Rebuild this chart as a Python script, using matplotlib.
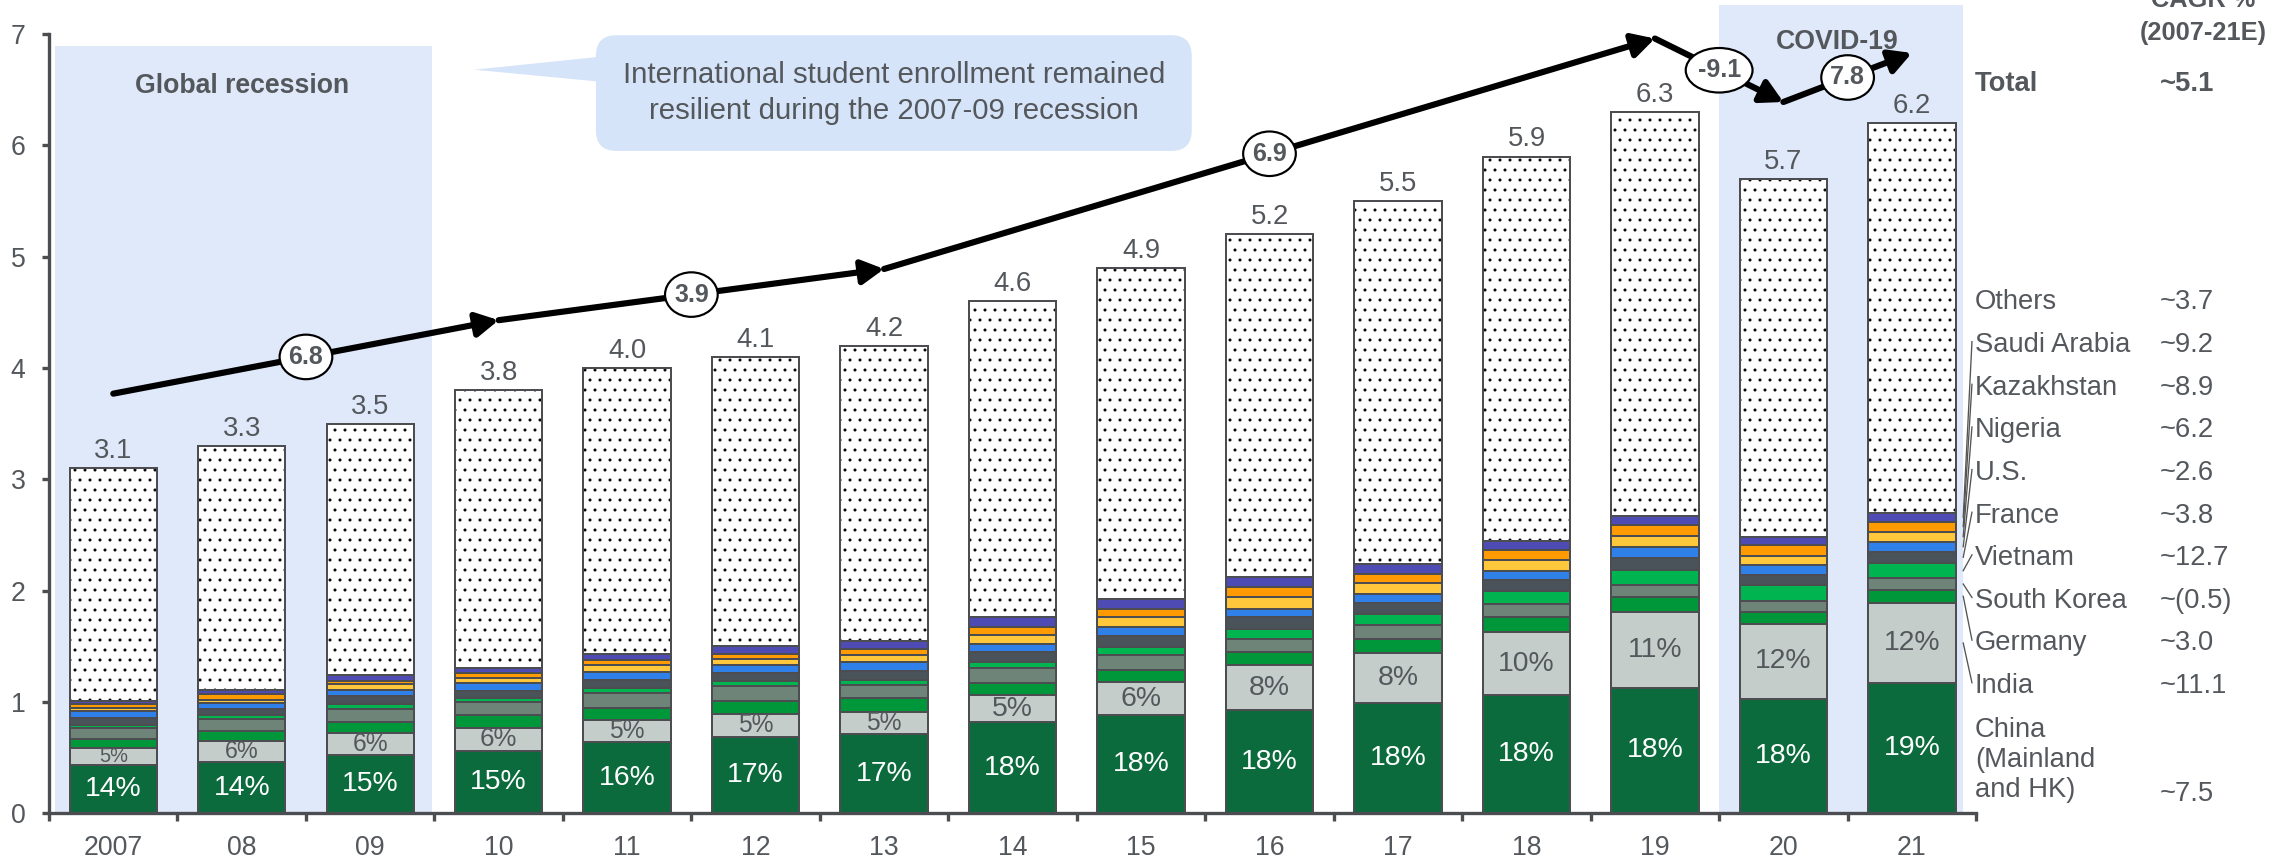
import numpy as np
import matplotlib.pyplot as plt
from matplotlib.patches import Ellipse, FancyBboxPatch, Polygon, Rectangle

plt.rcParams['font.family'] = ['Liberation Sans', 'DejaVu Sans']
plt.rcParams['hatch.linewidth'] = 0.6

# International students by source market, millions
years = ['2007', '08', '09', '10', '11', '12', '13', '14', '15', '16', '17', '18', '19', '20', '21']
totals = [3.1, 3.3, 3.5, 3.8, 4.0, 4.1, 4.2, 4.6, 4.9, 5.2, 5.5, 5.9, 6.3, 5.7, 6.2]

china = [0.43, 0.46, 0.52, 0.56, 0.64, 0.69, 0.71, 0.82, 0.88, 0.93, 0.99, 1.06, 1.13, 1.03, 1.17]
india = [0.16, 0.19, 0.20, 0.21, 0.20, 0.20, 0.20, 0.24, 0.30, 0.40, 0.45, 0.57, 0.68, 0.67, 0.72]
germany = [0.08, 0.09, 0.10, 0.11, 0.11, 0.12, 0.13, 0.11, 0.11, 0.12, 0.13, 0.13, 0.13, 0.11, 0.12]
south_korea = [0.10, 0.11, 0.12, 0.12, 0.13, 0.13, 0.11, 0.14, 0.13, 0.12, 0.12, 0.12, 0.11, 0.10, 0.10]
vietnam = [0.02, 0.03, 0.04, 0.04, 0.05, 0.05, 0.05, 0.05, 0.07, 0.09, 0.10, 0.12, 0.14, 0.14, 0.14]
france = [0.07, 0.06, 0.07, 0.06, 0.07, 0.07, 0.08, 0.09, 0.10, 0.10, 0.10, 0.10, 0.10, 0.09, 0.10]
us = [0.06, 0.05, 0.06, 0.07, 0.07, 0.07, 0.08, 0.07, 0.08, 0.08, 0.08, 0.08, 0.10, 0.09, 0.09]
nigeria = [0.03, 0.03, 0.05, 0.05, 0.06, 0.06, 0.06, 0.08, 0.09, 0.10, 0.10, 0.10, 0.10, 0.08, 0.09]
kazakhstan = [0.03, 0.05, 0.03, 0.04, 0.05, 0.04, 0.06, 0.07, 0.08, 0.09, 0.08, 0.09, 0.10, 0.10, 0.09]
saudi = [0.03, 0.04, 0.05, 0.05, 0.05, 0.07, 0.07, 0.09, 0.09, 0.09, 0.09, 0.08, 0.08, 0.07, 0.08]

# CAGR trend arrows (level of the arrow line at each turning year)
trend_years = ['2007', '10', '13', '19', '20', '21']
trend_level = [3.77, 4.43, 4.89, 6.96, 6.39, 6.83]
trend_cagr = ['6.8', '3.9', '6.9', '-9.1', '7.8']

legend_names = ['Others', 'Saudi Arabia', 'Kazakhstan', 'Nigeria', 'U.S.', 'France',
                'Vietnam', 'South Korea', 'Germany', 'India']
legend_cagr = ['~3.7', '~9.2', '~8.9', '~6.2', '~2.6', '~3.8', '~12.7', '~(0.5)', '~3.0', '~11.1']
china_cagr = '~7.5'
total_cagr = '~5.1'

segments = [china, india, germany, south_korea, vietnam, france, us, nigeria, kazakhstan, saudi]
colors = ['#0b6b3d', '#c5cdca', '#00963a', '#6f8479', '#00b450', '#4a525a',
          '#2f80e8', '#ffc83c', '#ff9a00', '#4f4bb4']

TEXT = '#54585c'
EDGE = '#4b4d50'
SHADE = '#dfe9fa'

fig = plt.figure(figsize=(19.0, 865 / 120), dpi=120)
ax = fig.add_axes([0.0215, 0.0597, 0.8452, 0.9009])

x = np.arange(len(years))
width = 0.68
n = len(years)

# shaded periods
ax.add_patch(Rectangle((x[0] - 0.45, 0), x[2] + 0.48 - (x[0] - 0.45), 6.89,
                       fc=SHADE, ec='none', zorder=0))
ax.add_patch(Rectangle((x[13] - 0.5, 0), x[14] + 0.4 - (x[13] - 0.5), 7.26,
                       fc=SHADE, ec='none', zorder=0, clip_on=False))
ax.text(x[1], 6.53, 'Global recession', ha='center', va='center', fontsize=16,
        fontweight='bold', color=TEXT)
ax.text(x[13] + 0.42, 6.93, 'COVID-19', ha='center', va='center', fontsize=16,
        fontweight='bold', color=TEXT)

# stacked bars
bottom = np.zeros(n)
for vals, col in zip(segments, colors):
    ax.bar(x, vals, width, bottom=bottom, color=col, edgecolor=EDGE, linewidth=1.2, zorder=2)
    bottom += np.array(vals)
others = np.array(totals) - bottom
ax.bar(x, others, width, bottom=bottom, color='white', edgecolor='black', hatch='..',
       linewidth=0, zorder=2)
ax.bar(x, others, width, bottom=bottom, fill=False, edgecolor=EDGE, linewidth=1.2, zorder=3)

for i in range(n):
    ax.annotate(f'{totals[i]:.1f}', (x[i], totals[i]), xytext=(0, 2.5),
                textcoords='offset points', ha='center', va='bottom', fontsize=16.5, color=TEXT)
    cp = round(100 * china[i] / totals[i])
    ax.text(x[i], china[i] / 2, f'{cp}%', ha='center', va='center', fontsize=17,
            color='white', zorder=4)
    ip = round(100 * india[i] / totals[i])
    fs = float(np.clip(india[i] * 74, 12, 17))
    ax.text(x[i], china[i] + india[i] / 2, f'{ip}%', ha='center', va='center',
            fontsize=fs, color=TEXT, zorder=4)

# CAGR arrows
tx = [years.index(y) for y in trend_years]
for k in range(len(trend_cagr)):
    ax.annotate('', xy=(tx[k + 1], trend_level[k + 1]), xytext=(tx[k], trend_level[k]),
                arrowprops=dict(arrowstyle='-|>,head_length=0.55,head_width=0.3',
                                mutation_scale=20, lw=3.7, color='black',
                                shrinkA=0, shrinkB=0), zorder=5)
    mx = (tx[k] + tx[k + 1]) / 2
    my = (trend_level[k] + trend_level[k + 1]) / 2
    lab = trend_cagr[k]
    ax.add_patch(Ellipse((mx, my), 0.08 + 0.11 * len(lab), 0.40, fc='white', ec='black',
                         lw=1.3, zorder=6, clip_on=False))
    ax.text(mx, my, lab, ha='center', va='center', fontsize=15, fontweight='bold',
            color=TEXT, zorder=7)

# callout
ax.add_patch(Polygon([[2.81, 6.68], [3.9, 6.81], [3.9, 6.56]], closed=True,
                     fc='#d6e4f9', ec='none', zorder=1))
ax.add_patch(FancyBboxPatch((3.757, 5.95), 8.395 - 3.757, 6.99 - 5.95,
                            boxstyle='round,pad=0,rounding_size=0.16',
                            mutation_aspect=1.155, fc='#d6e4f9', ec='none', zorder=1))
ax.text((3.757 + 8.395) / 2, 6.47,
        'International student enrollment remained\nresilient during the 2007-09 recession',
        ha='center', va='center', fontsize=17.6, color=TEXT, linespacing=1.35, zorder=2)

# side legend with CAGR
lx = x[-1] + 0.49
vx = x[-1] + 1.93
hx = x[-1] + 2.27
ax.text(hx, 7.01, '(2007-21E)', ha='center', va='center', fontsize=15.2,
        fontweight='bold', color=TEXT)
ax.text(hx, 7.31, 'CAGR %', ha='center', va='center', fontsize=15.2,
        fontweight='bold', color=TEXT)
ax.text(lx, 6.55, 'Total', ha='left', va='center', fontsize=16.4, fontweight='bold', color=TEXT)
ax.text(vx, 6.55, total_cagr, ha='left', va='center', fontsize=16.4, fontweight='bold',
        color=TEXT)

last = np.array([s[-1] for s in segments])
mids = np.cumsum(last) - last / 2
row0, step = 4.59, 0.383
for row, (name, val) in enumerate(zip(legend_names, legend_cagr)):
    ly = row0 - row * step
    ax.text(lx, ly, name, ha='left', va='center', fontsize=16.4, color=TEXT)
    ax.text(vx, ly, val, ha='left', va='center', fontsize=16.4, color=TEXT)
    if row > 0:
        seg = len(segments) - row
        ax.plot([x[-1] + 0.40, x[-1] + 0.468], [mids[seg], ly + 0.03], color='#555555',
                lw=0.8, clip_on=False, zorder=3)
ax.text(lx, 0.48, 'China\n(Mainland\nand HK)', ha='left', va='center', fontsize=16.4,
        color=TEXT, linespacing=1.2)
ax.text(vx, 0.17, china_cagr, ha='left', va='center', fontsize=16.4, color=TEXT)

# axes styling
ax.set_xlim(-0.5, 14.5)
ax.set_ylim(0, 7)
ax.set_yticks(range(8))
ax.set_xticks(x, years)
ax.set_xticks(np.arange(-0.5, n), minor=True)
ax.tick_params(axis='x', which='major', length=0, pad=13, labelsize=16, labelcolor=TEXT)
ax.tick_params(axis='x', which='minor', length=4.5, width=2, color=EDGE)
ax.tick_params(axis='y', length=4.2, width=2, color=EDGE, pad=10, labelsize=16,
               labelcolor=TEXT)
for s in ['top', 'right']:
    ax.spines[s].set_visible(False)
for s in ['left', 'bottom']:
    ax.spines[s].set_color(EDGE)
    ax.spines[s].set_linewidth(2)

fig.savefig('out.png', dpi=120)
